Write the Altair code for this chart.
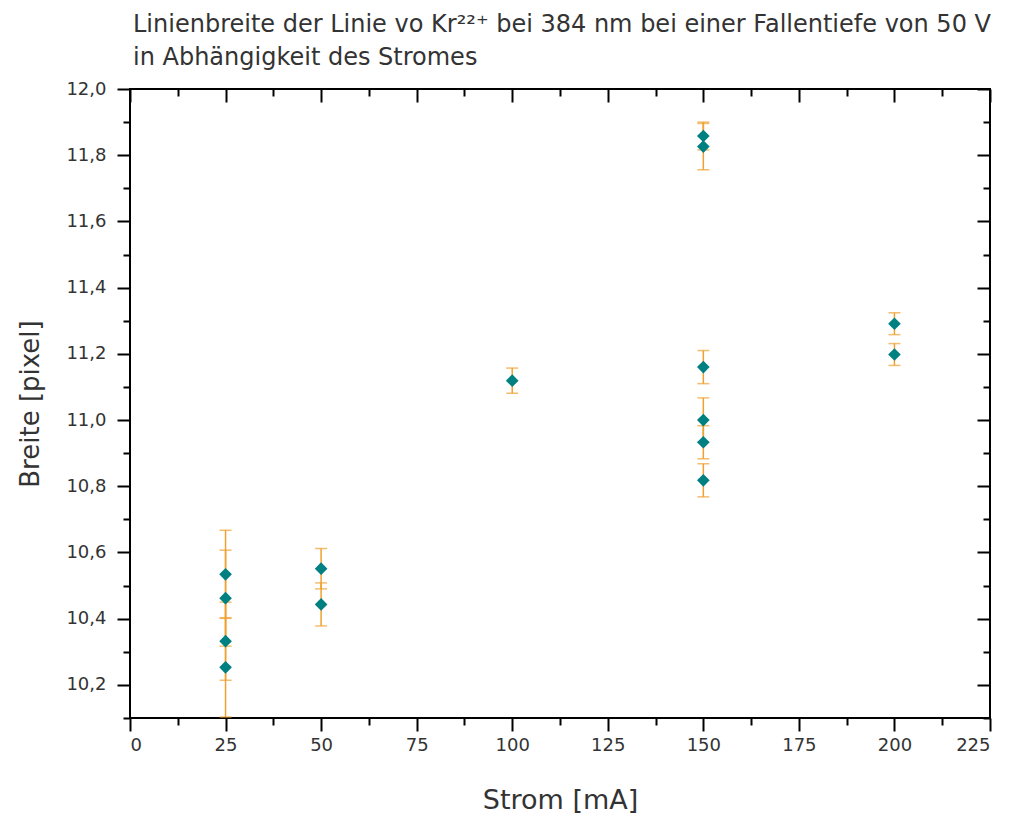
import altair as alt
import pandas as pd

# Data
strom = [25, 25, 25, 25, 50, 50, 100, 150, 150, 150, 150, 150, 150, 200, 200]
breite = [10.534, 10.462, 10.332, 10.253, 10.551, 10.443, 11.119,
          11.858, 11.826, 11.160, 11.000, 10.933, 10.818, 11.291, 11.198]
fehler = [0.133, 0.145, 0.118, 0.150, 0.061, 0.065, 0.038,
          0.042, 0.070, 0.050, 0.067, 0.050, 0.050, 0.033, 0.033]

x_major = [0, 25, 50, 75, 100, 125, 150, 175, 200, 225]
x_minor = [12.5, 37.5, 62.5, 87.5, 112.5, 137.5, 162.5, 187.5, 212.5]
y_major = [10.2, 10.4, 10.6, 10.8, 11.0, 11.2, 11.4, 11.6, 11.8, 12.0]
y_minor = [10.1, 10.3, 10.5, 10.7, 10.9, 11.1, 11.3, 11.5, 11.7, 11.9]

title_lines = ["Linienbreite der Linie vo Kr²²⁺ bei 384 nm bei einer Fallentiefe von 50 V",
               "in Abhängigkeit des Stromes"]

df = pd.DataFrame({"strom": strom, "breite": breite, "fehler": fehler})

FONT = "DejaVu Sans"
TXT = "#333333"
ORANGE = "#F0A030"
TEAL = "#008080"

xs = alt.Scale(domain=[0, 225], nice=False, zero=False)
ys = alt.Scale(domain=[10.1, 12.0], nice=False, zero=False)

lab = "replace(format(datum.value, '.1f'), '.', ',')"

common = dict(grid=False, domain=False, tickColor="black", tickWidth=2)

ax_bottom = alt.Axis(orient="bottom", values=x_major, tickSize=13, labelPadding=5,
                     labelFont=FONT, labelFontSize=18, labelColor=TXT,
                     title="Strom [mA]", titleFont=FONT, titleFontSize=27,
                     titleFontWeight="normal", titleColor=TXT, titlePadding=33, **common)
ax_left = alt.Axis(orient="left", values=y_major, tickSize=13, labelPadding=11,
                   labelExpr=lab, labelFont=FONT, labelFontSize=18, labelColor=TXT,
                   title="Breite [pixel]", titleFont=FONT, titleFontSize=26,
                   titleFontWeight="normal", titleColor=TXT, titlePadding=22, **common)
ax_bottom_minor = alt.Axis(orient="bottom", values=x_minor, tickSize=7, labels=False,
                           title=None, **common)
ax_left_minor = alt.Axis(orient="left", values=y_minor, tickSize=7, labels=False,
                         title=None, **common)
ax_top = alt.Axis(orient="top", values=x_major, tickSize=13, offset=-13, labels=False,
                  title=None, **common)
ax_right = alt.Axis(orient="right", values=y_major, tickSize=13, offset=-13, labels=False,
                    title=None, **common)
ax_top_minor = alt.Axis(orient="top", values=x_minor, tickSize=7, offset=-7, labels=False,
                        title=None, **common)
ax_right_minor = alt.Axis(orient="right", values=y_minor, tickSize=7, offset=-7, labels=False,
                          title=None, **common)

base = alt.Chart(df).transform_calculate(
    lo="datum.breite - datum.fehler",
    hi="datum.breite + datum.fehler",
)

bars = base.mark_rule(color=ORANGE, strokeWidth=1.5).encode(
    x=alt.X("strom:Q", scale=xs, axis=ax_bottom),
    y=alt.Y("lo:Q", scale=ys, axis=ax_left),
    y2="hi:Q",
)

cap_lo = base.mark_tick(color=ORANGE, orient="horizontal", size=12, thickness=1.5).encode(
    x=alt.X("strom:Q", scale=xs, axis=ax_bottom_minor),
    y=alt.Y("lo:Q", scale=ys, axis=ax_left_minor),
)

cap_hi = base.mark_tick(color=ORANGE, orient="horizontal", size=12, thickness=1.5).encode(
    x=alt.X("strom:Q", scale=xs, axis=ax_top),
    y=alt.Y("hi:Q", scale=ys, axis=ax_right),
)

points = base.mark_point(shape="diamond", filled=True, size=160, color=TEAL, opacity=1).encode(
    x=alt.X("strom:Q", scale=xs, axis=ax_top_minor),
    y=alt.Y("breite:Q", scale=ys, axis=ax_right_minor),
)

chart = alt.layer(bars, cap_lo, cap_hi, points).resolve_axis(
    x="independent", y="independent"
).properties(
    width=860,
    height=629,
    padding={"left": 9, "top": 5, "right": 5, "bottom": 5},
    background="white",
    title=alt.TitleParams(text=title_lines, anchor="start", frame="group", font=FONT,
                          fontSize=24, fontWeight="normal", color=TXT, lineHeight=33,
                          offset=10, dx=3),
).configure_view(stroke="black", strokeWidth=2)

chart.save("out.html", embed_options={"renderer": "svg", "actions": False})
